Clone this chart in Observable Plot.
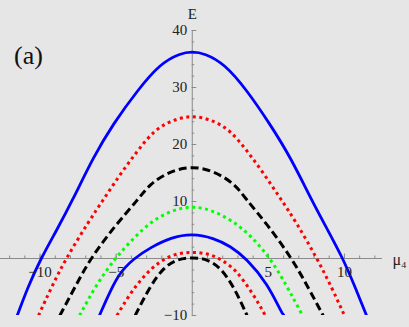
<!DOCTYPE html>
<html><head><meta charset="utf-8">
<script src="https://cdn.jsdelivr.net/npm/d3@7"></script>
<script src="https://cdn.jsdelivr.net/npm/@observablehq/plot@0.6"></script>
<style>
html,body{margin:0;padding:0;background:#e6e6e6;}
#chart{width:409px;height:327px;overflow:hidden;}
#chart svg text{font-family:"Liberation Serif","Times New Roman",serif;}
</style></head><body><div id="chart"></div>
<script>
// Curve data (μ4, E)
const muA = [-11.5,-10.8,-9.95,-8.9,-7.85,-6.5,-5.2,-3.6,-2.1,-0.8,0,0.8,2.1,3.6,5.1,6.45,7.85,8.9,9.9,10.7,11.45];
const eA  = [-10,-5,0,5,10.3,17.8,23.6,29.5,34.2,36,36.3,36,34.2,29.5,23.6,17.8,10.2,5,0,-5,-10];

const muB = [-10.1,-9.25,-8.3,-6.8,-5.8,-4.7,-3.6,-2.5,-1.4,0,1.4,2.5,3.6,4.7,5.8,6.8,8.2,9.15,10.0];
const eB  = [-10,-5,0,6.5,10.5,14.9,18.9,22.5,24.2,25.2,24.2,22.5,18.9,14.9,10.5,6.5,0,-5,-10];

const muC = [-8.7,-7.7,-6.7,-5.0,-3.6,-2.8,-1.4,0,1.4,2.8,3.5,4.9,6.55,7.6,8.6];
const eC  = [-10,-5,0,6.0,10.2,13.1,15.4,16.2,15.4,13.1,10.5,6.1,0,-5,-10];

const muD = [-7.4,-6.4,-5.1,-3.8,-2.7,-1.4,0,1.4,2.7,3.85,5.15,6.25,7.0,7.25];
const eD  = [-10,-5,0,3.7,6.5,8.4,9.3,8.4,6.5,4.0,0,-5,-8.8,-10];

const muE = [-6.1,-5.75,-4.9,-3.85,-2.7,-1.4,0,1.4,2.5,3.55,4.95,5.9,6.05];
const eE  = [-10,-7.9,-2.8,0,2.0,3.7,4.4,3.6,2.2,0,-4.4,-9.7,-10];

const muF = [-4.95,-4.1,-3.2,-2.2,-1.2,0,1.2,2.1,2.9,4.0,4.8];
const eF  = [-10,-6.2,-3.1,-0.6,0.8,1.2,0.8,-0.5,-2.1,-6.2,-10];

const muG = [-3.75,-2.8,-1.9,-1.0,0,1.0,1.9,2.8,3.6];
const eG  = [-10,-5.0,-1.6,-0.1,0.2,-0.1,-1.7,-5.3,-10];

// Axis ticks and labels
const xMinorTicks = [-12,-11,-10,-9,-8,-7,-6,-5,-4,-3,-2,-1,1,2,3,4,5,6,7,8,9,10,11,12];
const xMajorTicks = [-10,-5,5,10];
const xTickLabels = ["\u221210","\u22125","5","10"];
const yMinorTicks = [-10,-8,-6,-4,-2,2,4,6,8,10,12,14,16,18,20,22,24,26,28,30,32,34,36,38,40];
const yMajorTicks = [-10,10,20,30,40];
const yTickLabels = ["\u221210","10","20","30","40"];

const curves = [
  {mu: muA, e: eA, stroke: "#0000ff", strokeWidth: 2.8, dash: null},
  {mu: muB, e: eB, stroke: "#ff0000", strokeWidth: 3, dash: "3,3.5"},
  {mu: muC, e: eC, stroke: "#000000", strokeWidth: 3, dash: "8,4"},
  {mu: muD, e: eD, stroke: "#00ff00", strokeWidth: 3, dash: "3,3.5"},
  {mu: muE, e: eE, stroke: "#0000ff", strokeWidth: 2.8, dash: null},
  {mu: muF, e: eF, stroke: "#ff0000", strokeWidth: 3, dash: "3,3.5"},
  {mu: muG, e: eG, stroke: "#000000", strokeWidth: 3, dash: "8,4"}
];

const axisColor = "#8a8a8a";
const font = "Liberation Serif";

const lineMarks = curves.map(c => Plot.line(c.mu.map((m, i) => ({mu: m, E: c.e[i]})), {
  x: "mu", y: "E", stroke: c.stroke, strokeWidth: c.strokeWidth,
  strokeDasharray: c.dash, strokeLinecap: "butt", curve: "basis", clip: true
}));

const chart = Plot.plot({
  width: 409, height: 327,
  marginLeft: 0, marginRight: 27, marginTop: 30, marginBottom: 12,
  style: {background: "transparent", fontFamily: font, fontSize: "14px", color: "#222"},
  x: {domain: [-12.6, 12.5], axis: null},
  y: {domain: [-10, 40], axis: null},
  marks: [
    Plot.ruleY([0], {stroke: axisColor, strokeWidth: 1}),
    Plot.ruleX([0], {y1: -10, y2: 40, stroke: axisColor, strokeWidth: 1}),
    Plot.ruleX(xMinorTicks, {x: d => d, y1: 0, y2: 0, insetTop: -2.5, stroke: axisColor}),
    Plot.ruleX(xMajorTicks, {x: d => d, y1: 0, y2: 0, insetTop: -4.5, stroke: axisColor}),
    Plot.ruleY(yMinorTicks, {y: d => d, x1: 0, x2: 0, insetRight: -2.5, stroke: axisColor}),
    Plot.ruleY(yMajorTicks, {y: d => d, x1: 0, x2: 0, insetRight: -4.5, stroke: axisColor}),
    ...lineMarks,
    Plot.text(xMajorTicks, {x: d => d, y: 0, dy: 14, text: (d, i) => xTickLabels[i], fill: "#222", fontSize: 15, fontFamily: font}),
    Plot.text(yMajorTicks, {x: 0, y: d => d, dx: -5, text: (d, i) => yTickLabels[i], textAnchor: "end", fill: "#222", fontSize: 15, fontFamily: font}),
    Plot.text(["E"], {x: 0, y: 40, dy: -16, text: d => d, fill: "#222", fontSize: 15, fontFamily: font}),
    Plot.text(["\u03bc\u2084"], {x: 12.5, y: 0, dx: 17, dy: 1, text: d => d, fill: "#222", fontSize: 16, fontFamily: font}),
    Plot.text(["(a)"], {frameAnchor: "top-left", dx: 28, dy: 25, textAnchor: "middle", lineAnchor: "middle", text: d => d, fill: "#111", fontSize: 26, fontFamily: font})
  ]
});
document.getElementById("chart").appendChild(chart);
</script>
</body></html>
